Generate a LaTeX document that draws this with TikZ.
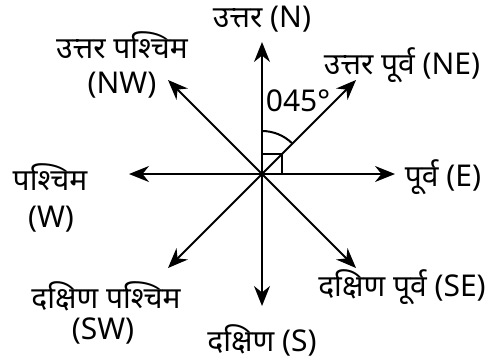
\documentclass[tikz,border=0pt]{standalone}
\usepackage{fontspec}
\setmainfont{Noto Sans}[Script=Devanagari]
\usetikzlibrary{arrows.meta}
\begin{document}
\begin{tikzpicture}[x=0.5pt,y=-0.5pt,
  dir/.style={line width=1pt,-{Stealth[length=10pt,width=8pt]}},
  anglemark/.style={line width=1pt},
  lbl/.style={font=\fontsize{15}{18}\selectfont, inner sep=0pt, anchor=center}]
\useasboundingbox (0,0) rectangle (498,359);
\coordinate (O) at (262,174);
\coordinate (N) at (262,42);
\coordinate (S) at (262,306);
\coordinate (E) at (395,174);
\coordinate (W) at (129,174);
\coordinate (NE) at (356,80);
\coordinate (NW) at (168,80);
\coordinate (SE) at (356,268);
\coordinate (SW) at (168,268);
\foreach \t in {N,S,E,W,NE,NW,SE,SW} \draw[dir] (O) -- (\t);
% right angle square and arc
\coordinate (q1) at (262,154);
\coordinate (q2) at (282,154);
\coordinate (q3) at (282,174);
\draw[anglemark] (q1) -- (q2) -- (q3);
\draw[anglemark] (262,131) arc[start angle=-90, end angle=-45, radius=43];
% labels
\node[lbl] (lN) at (262,19) {उत्तर (N)};
\node[lbl] (lNW1) at (122,45) {उत्तर पश्चिम};
\node[lbl] (lNW2) at (122,85) {(NW)};
\node[lbl] (lNE) at (402,65) {उत्तर पूर्व (NE)};
\node[lbl] (lang) at (298,101) {045°};
\node[lbl] (lW1) at (50,177) {पश्चिम};
\node[lbl] (lW2) at (51,219) {(W)};
\node[lbl] (lE) at (443,177) {पूर्व (E)};
\node[lbl] (lSW1) at (106,296) {दक्षिण पश्चिम};
\node[lbl] (lSW2) at (103,331) {(SW)};
\node[lbl] (lS) at (262,340) {दक्षिण (S)};
\node[lbl] (lSE) at (402,287) {दक्षिण पूर्व (SE)};
\end{tikzpicture}
\end{document}
